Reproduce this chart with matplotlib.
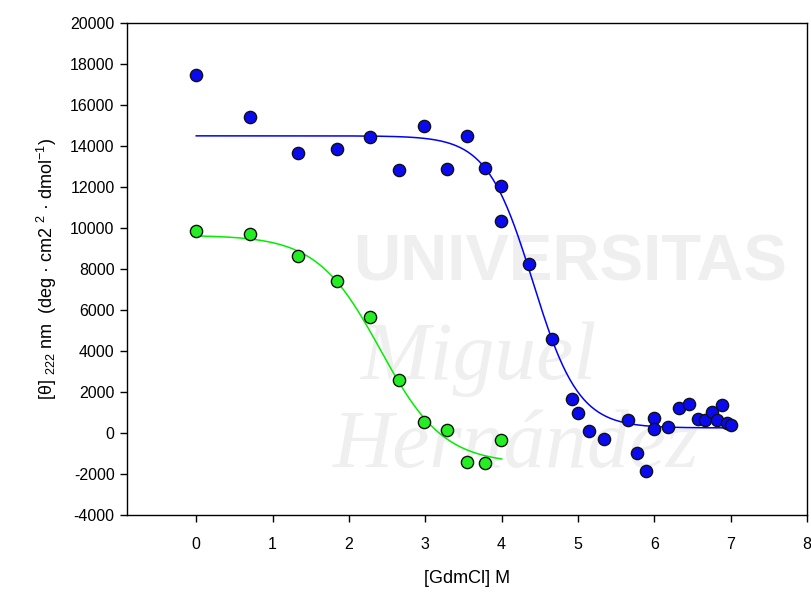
"""
GdmCl denaturation curves: CD signal at 222 nm vs [GdmCl], with sigmoid fits
"""

import numpy as np
import matplotlib
matplotlib.use('Agg')
import matplotlib.pyplot as plt

# Data
blue_x = [0.0, 0.71, 1.33, 1.84, 2.28, 2.66, 2.99, 3.29, 3.55, 3.78, 3.99,
          3.99, 4.36, 4.66, 4.92, 5.0, 5.14, 5.34, 5.65, 5.78, 5.89, 6.0,
          6.0, 6.18, 6.33, 6.45, 6.57, 6.67, 6.75, 6.82, 6.89, 6.95, 7.0]
blue_y = [17480, 15400, 13670, 13850, 14420, 12830, 14960, 12890, 14470,
          12930, 12030, 10330, 8230, 4570, 1670, 960, 100, -280, 620, -960,
          -1870, 720, 210, 290, 1200, 1410, 680, 630, 1020, 630, 1370, 500,
          390]
green_x = [0.0, 0.71, 1.33, 1.84, 2.28, 2.66, 2.99, 3.29, 3.55, 3.78, 3.99]
green_y = [9870, 9690, 8650, 7400, 5670, 2600, 550, 130, -1430, -1450, -360]

# Fitted sigmoid parameters (top, bottom, midpoint, slope)
blue_fit = [14500, 250, 4.41, 0.30]
green_fit = [9650, -1500, 2.41, 0.415]
blue_range = [0.0, 7.0]
green_range = [0.0, 4.0]

x_ticks = [0, 1, 2, 3, 4, 5, 6, 7, 8]
y_ticks = list(range(-4000, 20001, 2000))


def sigmoid(x, top, bottom, x0, m):
    return bottom + (top - bottom) / (1 + np.exp((x - x0) / m))


def main():
    plt.rcParams['font.family'] = ['Liberation Sans', 'DejaVu Sans']
    plt.rcParams['mathtext.fontset'] = 'custom'
    plt.rcParams['mathtext.rm'] = 'Liberation Sans'
    plt.rcParams['mathtext.it'] = 'Liberation Sans:italic'
    plt.rcParams['axes.unicode_minus'] = False

    fig = plt.figure(figsize=(8.11, 5.93), dpi=100)

    # faint watermark on a background axes
    bg = fig.add_axes([0, 0, 1, 1], zorder=-1)
    bg.axis('off')
    wm = '#efefef'
    bg.text(0.435, 0.555, 'UNIVERSITAS', color=wm, fontsize=47,
            fontweight='bold', family='Liberation Sans',
            va='center', ha='left')
    bg.text(0.445, 0.395, 'Miguel', color=wm, fontsize=60, style='italic',
            family='Liberation Serif', va='center', ha='left')
    bg.text(0.41, 0.245, 'Hernández', color=wm, fontsize=60, style='italic',
            family='Liberation Serif', va='center', ha='left')

    ax = fig.add_axes([0.1566, 0.1315, 0.8384, 0.8295])
    ax.patch.set_alpha(0)

    # fits
    xb = np.linspace(blue_range[0], blue_range[1], 300)
    ax.plot(xb, sigmoid(xb, *blue_fit), color='#0000ff', lw=1.1, zorder=2)
    xg = np.linspace(green_range[0], green_range[1], 300)
    ax.plot(xg, sigmoid(xg, *green_fit), color='#00ee00', lw=1.1, zorder=2)

    # points
    ax.plot(blue_x, blue_y, 'o', color='#0a0af0', mec='#111111', mew=1.0,
            ms=8.8, zorder=3)
    ax.plot(green_x, green_y, 'o', color='#22ee22', mec='#111111', mew=1.0,
            ms=8.8, zorder=3)

    ax.set_xlim(-0.907, 8.0)
    ax.set_ylim(-4000, 20000)
    ax.set_xticks(x_ticks)
    ax.set_yticks(y_ticks)
    ax.tick_params(direction='out', length=5, width=1, labelsize=11.5,
                   pad=4)
    ax.tick_params(axis='x', pad=11)
    for s in ax.spines.values():
        s.set_linewidth(1)

    ax.set_xlabel('[GdmCl] M', fontsize=13, labelpad=13)
    ax.set_ylabel(r'[θ] $_{222}$ nm  (deg · cm2 $^{2}$ · dmol$^{-1}$)',
                  fontsize=13, labelpad=8)

    fig.savefig('out.png', dpi=100)


if __name__ == '__main__':
    main()
